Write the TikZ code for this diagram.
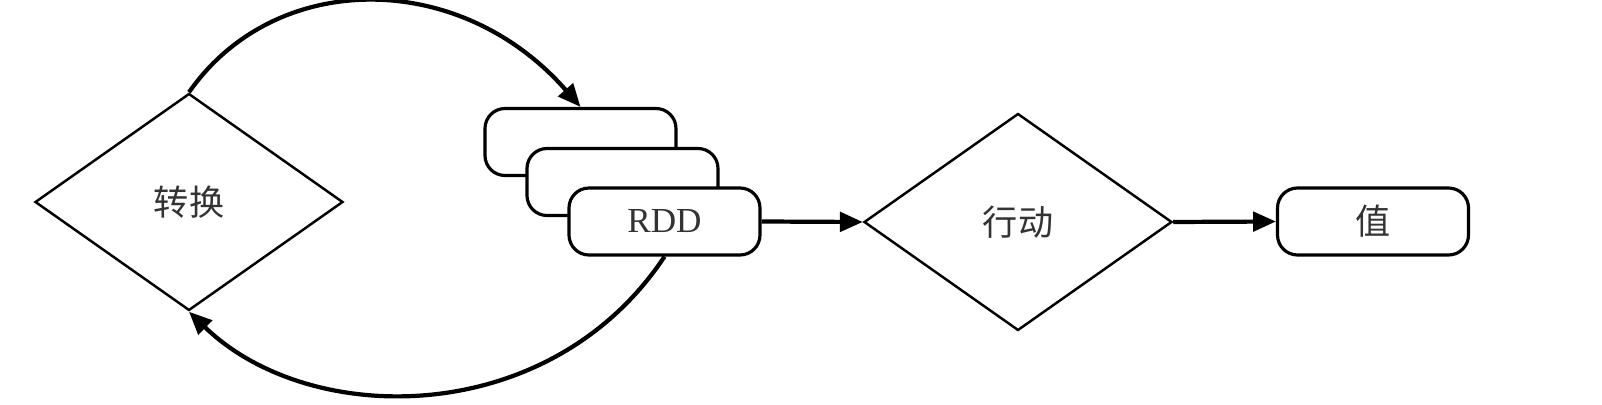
\documentclass[tikz,border=0pt]{standalone}
\usepackage{fontspec}
\setmainfont{Liberation Serif}
\newfontfamily\cjk{Noto Sans CJK SC}
\usepackage{tikz}
\usetikzlibrary{shapes.geometric,arrows.meta}

\begin{document}
\begin{tikzpicture}[>={Triangle[length=6.5pt,width=5.5pt]},semithick]
\tikzstyle{every node}=[text=black!80,font=\fontsize{10}{12}\selectfont]
\tikzstyle{choice}=[diamond,draw=black,line width=0.7pt,minimum width=3.08cm,minimum height=2.17cm,inner sep=0pt]
\tikzstyle{rdd}=[rectangle,rounded corners=0.2cm,draw=black,fill=white,line width=0.9pt,minimum width=1.91cm,minimum height=0.67cm]
\tikzstyle{flow}=[->,line width=1.2pt]
\useasboundingbox (0,0) rectangle (16.02,4.04);
\node[choice] (T) at (1.89,2.02) {\cjk 转换};
\node[rdd] (R1) at (5.805,2.62) {};
\node[rdd] (R2) at (6.225,2.22) {};
\node[rdd] (R3) at (6.645,1.825) {RDD};
\node[choice] (A) at (10.18,1.82) {\cjk 行动};
\node[rdd] (V) at (13.73,1.825) {\cjk 值};
\draw[flow] (T.north) .. controls (2.75,4.35) and (4.6,4.35) .. (R1.north);
\draw[flow] (R3.south) .. controls (5.5,-0.25) and (3.1,-0.25) .. (T.south);
\draw[flow] (R3.east) -- (A.west);
\draw[flow] (A.east) -- (V.west);
\end{tikzpicture}
\end{document}
